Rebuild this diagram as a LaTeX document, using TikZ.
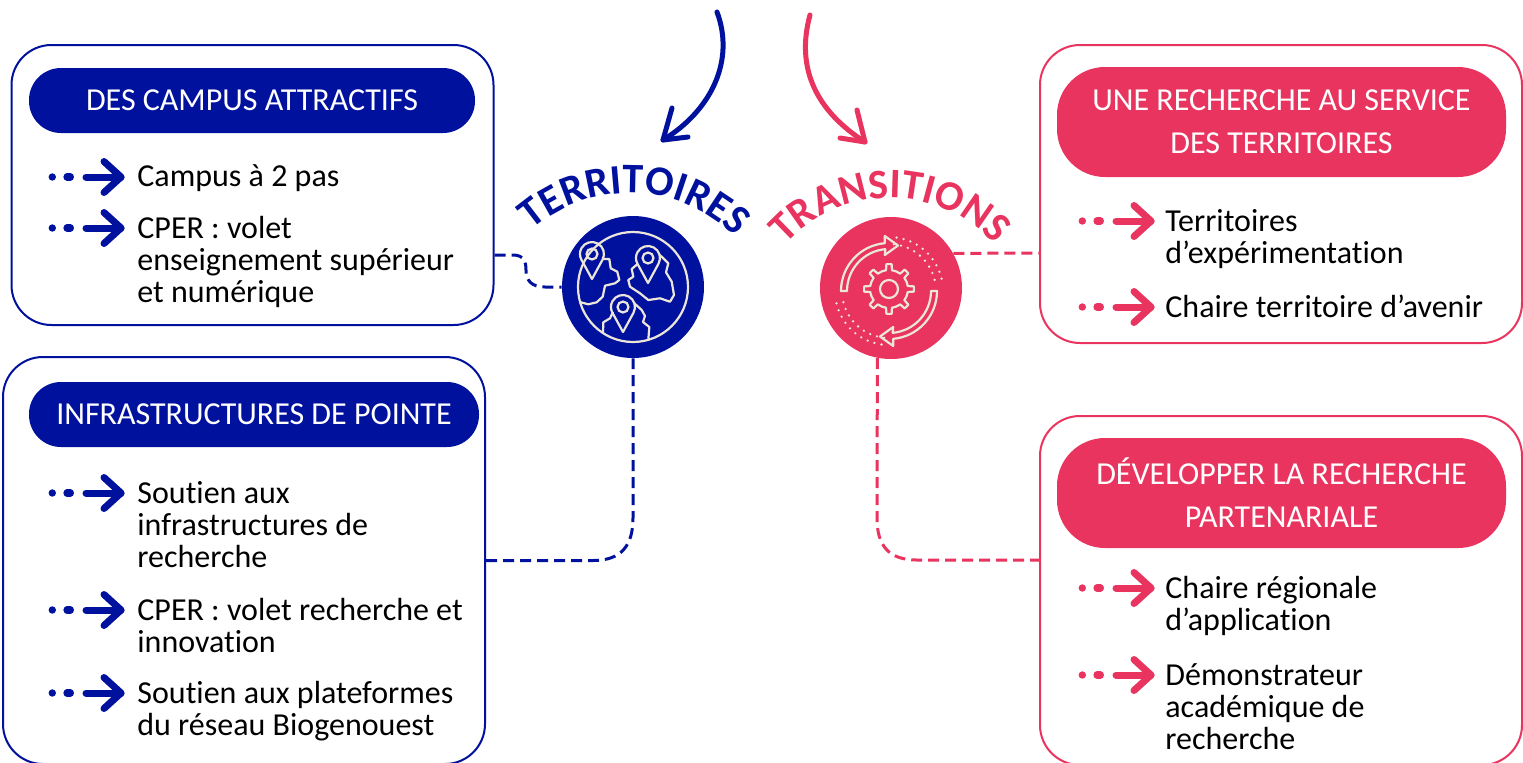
\documentclass[tikz,border=0pt]{standalone}
\usepackage{fontspec}
\setmainfont{Carlito}[Ligatures=NoCommon]
\usetikzlibrary{decorations.text}
\definecolor{tblue}{RGB}{0,17,158}
\definecolor{tpink}{RGB}{232,52,94}
\definecolor{iconc}{RGB}{236,230,218}
\tikzset{
  bul/.pic={
    \fill (-71.7,0) circle[radius=3.7];
    \draw[line width=3.6pt, line cap=round] (-57,0) -- (-53.6,0);
    \draw[line width=3.5pt, line cap=round] (-38,0) -- (-3,0);
    \draw[line width=3.5pt, line cap=round, line join=round] (-20,-15.5) -- (-3,0) -- (-20,15.5);
  },
  pin/.pic={
    \draw[draw=iconc, line width=1.1pt, line join=round] (0,25) -- (10.5,5.76) arc[start angle=28.7, end angle=-208.7, radius=12] -- cycle;
    \draw[draw=iconc, line width=1.1pt] (0,0) circle[radius=5.5];
  }
}
\begin{document}
\begin{tikzpicture}[x=0.5pt,y=-0.5pt,
  obox/.style={draw, line width=1pt, fill=white, rounded corners=20pt, inner sep=0, minimum width=241pt},
  bpill/.style={fill=tblue, text=white, rounded corners=16pt, inner sep=0, minimum width=223pt, minimum height=32.5pt, font=\fontsize{16pt}{21.5pt}\selectfont},
  ppill/.style={fill=tpink, text=white, rounded corners=24pt, inner sep=0, minimum width=224.5pt, minimum height=55pt, align=center, font=\fontsize{16pt}{21.5pt}\selectfont},
  itemtxt/.style={anchor=base west, inner sep=0, align=left, font=\fontsize{16pt}{16pt}\selectfont},
  disc/.style={circle, inner sep=0, minimum size=71pt},
  dashconn/.style={line width=1.5pt, dash pattern=on 5.5pt off 3pt},
  bigarrow/.style={line width=2.5pt, line cap=round, line join=round},
  iconline/.style={draw=iconc, line width=1.1pt, line join=round},
  dotline/.style={draw=iconc, line width=1.3pt, line cap=round, dash pattern=on 0pt off 3.6pt}
]
\useasboundingbox (0,0) rectangle (1523,762);
\fill[white] (0,0) rectangle (1523,762);

% boxes
\node[obox, draw=tblue, minimum height=140pt] (box1) at (252.5,185) {};
\node[obox, draw=tblue, minimum height=203.5pt] (box2) at (244,560.5) {};
\node[obox, draw=tpink, minimum height=149pt] (box3) at (1281,194) {};
\node[obox, draw=tpink, minimum height=174.5pt] (box4) at (1281,590.5) {};

% title pills
\node[bpill] (t1) at (252,100.5) {DES CAMPUS ATTRACTIFS};
\node[bpill, minimum width=225pt] (t2) at (254,414.5) {INFRASTRUCTURES DE POINTE};
\node[ppill] (t3) at (1281.5,122) {UNE RECHERCHE AU SERVICE\\DES TERRITOIRES};
\node[ppill] (t4) at (1281.5,493) {DÉVELOPPER LA RECHERCHE\\PARTENARIALE};

% items (anchor = baseline of the last line)
\pic[color=tblue] at (124,177) {bul};
\node[itemtxt] (i1) at (137,186) {Campus à 2 pas};
\pic[color=tblue] at (124,228) {bul};
\node[itemtxt] (i2) at (137,302) {CPER : volet\\enseignement supérieur\\et numérique};
\pic[color=tblue] at (124,493) {bul};
\node[itemtxt] (i3) at (137,567) {Soutien aux\\infrastructures de\\recherche};
\pic[color=tblue] at (124,610) {bul};
\node[itemtxt] (i4) at (137,652) {CPER : volet recherche et\\innovation};
\pic[color=tblue] at (124,693) {bul};
\node[itemtxt] (i5) at (137,735) {Soutien aux plateformes\\du réseau Biogenouest};
\pic[color=tpink] at (1154,221) {bul};
\node[itemtxt] (i6) at (1165,263) {Territoires\\d’expérimentation};
\pic[color=tpink] at (1154,307) {bul};
\node[itemtxt] (i7) at (1165,317) {Chaire territoire d’avenir};
\pic[color=tpink] at (1154,588) {bul};
\node[itemtxt] (i8) at (1165,630) {Chaire régionale\\d’application};
\pic[color=tpink] at (1154,675) {bul};
\node[itemtxt] (i9) at (1165,749) {Démonstrateur\\académique de\\recherche};

% circles
\node[disc, fill=tblue] (cT) at (633,287) {};
\node[disc, fill=tpink] (cR) at (891,288) {};

% connectors
\draw[dashconn, tblue] ([yshift=-35pt]box1.east) -- (513,255) .. controls (524,255) and (526,262) .. (526,270) .. controls (526,280) and (531,287) .. (545,287) -- (cT.west);
\draw[dashconn, tblue] (box2.east) -- (593,560.5) .. controls (621,560.5) and (633,546) .. (633,518) -- (cT.south);
\draw[dashconn, tpink] (cR.29.5) -- ([yshift=-29.5pt]box3.west);
\draw[dashconn, tpink] (cR.-101.4) -- (877,518) .. controls (877,546) and (889,560) .. (917,560) -- ([yshift=15.25pt]box4.west);

% big curved arrows
\coordinate (bs) at (717,12);
\coordinate (bt) at (663,140);
\coordinate (ps) at (810,15);
\coordinate (pt) at (865,142);
\draw[bigarrow, tblue] (bs) .. controls (735,60) and (712,110) .. (bt);
\draw[bigarrow, tblue] (672,108) -- (bt) -- (688,137);
\draw[bigarrow, tpink] (ps) .. controls (795,70) and (818,112) .. (pt);
\draw[bigarrow, tpink] (857,110) -- (pt) -- (840,138);

% arc texts
\path[decorate, decoration={text along path, text align=center, text={|\fontsize{21pt}{21pt}\selectfont\bfseries\color{tblue}|TERRITOIRES}}] (630,341) ++(212:148) arc[start angle=212, end angle=332, radius=148];
\path[decorate, decoration={text along path, text align=center, text={|\fontsize{21pt}{21pt}\selectfont\bfseries\color{tpink}|TRANSITIONS}}] (890,338) ++(210:140) arc[start angle=210, end angle=330, radius=140];

% globe icon
\draw[iconline] (cT.center) circle[radius=55];
\pic at (592,254) {pin};
\pic at (648,258) {pin};
\pic at (623,307) {pin};
\draw[iconline] (603,259) -- (609.3,259) -- (610.7,268.3) -- (617.3,271.7) -- (619.3,280) -- (615,283.3) -- (605,285.7) -- (602.7,296.7) -- (596.7,302.3) -- (588.3,304.3) -- (580.7,302.3);
\draw[iconline] (637.5,264) -- (631.7,269) -- (633.3,276.7) -- (628.3,280) -- (630,286.7) -- (640,293.3) -- (648.3,300) -- (660,298.3) -- (670,301.7) -- (674,295) -- (671.7,281.7) -- (666,272.3) -- (668.3,263.3) -- (661.7,256.7) -- (659.5,255);
\draw[iconline] (613,312) -- (610,318.3) -- (603.3,322.3) -- (603,333);
\draw[iconline] (634,303) -- (641.7,310) -- (645,316) -- (643,322) -- (649.3,327) -- (648.3,340);

% gear icon
\draw[iconline, shift={(889,289)}] (-9:19) \foreach \a in {0,45,...,315}{ -- (\a-9:19) -- (\a-6:25) -- (\a+6:25) -- (\a+9:19) arc[start angle=\a+9, end angle=\a+36, radius=19]} -- cycle;
\draw[iconline] (889,289) circle[radius=9];
\draw[iconline, shift={(889,291)}] (180:48) arc[start angle=180,end angle=265,radius=48] -- (-4.2,-55) -- (9,-45.5) -- (-4.2,-36) -- (265:42) arc[start angle=265,end angle=180,radius=42] -- cycle;
\draw[iconline, shift={(889,291)}, rotate=180] (180:48) arc[start angle=180,end angle=265,radius=48] -- (-4.2,-55) -- (9,-45.5) -- (-4.2,-36) -- (265:42) arc[start angle=265,end angle=180,radius=42] -- cycle;
\draw[dotline, shift={(889,291)}] (276:47) arc[start angle=276, end angle=355, radius=47];
\draw[dotline, shift={(889,291)}] (278:54) arc[start angle=278, end angle=352, radius=54];
\draw[dotline, shift={(889,291)}, rotate=180] (276:47) arc[start angle=276, end angle=355, radius=47];
\draw[dotline, shift={(889,291)}, rotate=180] (278:54) arc[start angle=278, end angle=352, radius=54];
\end{tikzpicture}
\end{document}
